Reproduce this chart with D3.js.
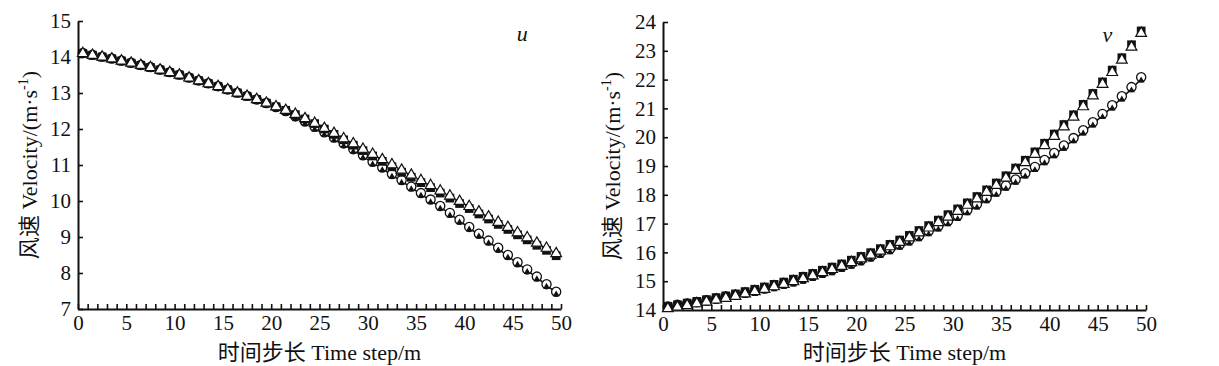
<!DOCTYPE html>
<html lang="zh">
<head>
    <meta charset="UTF-8">
    <title>风速 u / v</title>
    <style>
        *{ box-sizing: border-box; margin: 0; padding: 0; }
        body{ background: #fff; }
        #main{ width: 1219px; height: 366px; }
        text{ font-family: "Liberation Serif", "Times New Roman", "Noto Sans CJK SC", serif; fill: #111; }
    </style>
</head>
<body>
<div id="main"></div>
<script src="https://d3js.org/d3.v7.min.js"></script>
<script>
    /*===========1-数据===========*/
    // 时间步（每个点所在的横坐标）
    const steps = d3.range(50).map(i => i + 0.5)

    // u 分量
    const uSquare = [14.10,14.05,14.00,13.95,13.89,13.83,13.77,13.71,13.64,13.57,13.50,13.42,13.34,13.26,13.18,13.09,13.00,12.91,12.82,12.72,12.62,12.52,12.40,12.28,12.15,12.00,11.85,11.70,11.55,11.40,11.25,11.10,10.95,10.80,10.66,10.51,10.37,10.22,10.08,9.93,9.79,9.64,9.50,9.35,9.21,9.06,8.92,8.77,8.63,8.48]
    const uTriangle = [14.10,14.05,14.00,13.95,13.89,13.83,13.77,13.71,13.64,13.57,13.50,13.42,13.34,13.26,13.18,13.09,13.00,12.91,12.82,12.72,12.62,12.52,12.41,12.29,12.16,12.02,11.88,11.73,11.59,11.44,11.30,11.15,11.01,10.86,10.72,10.57,10.43,10.28,10.14,9.99,9.85,9.70,9.56,9.41,9.27,9.12,8.98,8.83,8.69,8.54]
    const uCircle = [14.11,14.06,14.01,13.96,13.90,13.84,13.78,13.72,13.65,13.58,13.51,13.43,13.35,13.27,13.19,13.10,13.01,12.92,12.82,12.72,12.61,12.50,12.35,12.21,12.06,11.91,11.76,11.60,11.44,11.27,11.09,10.93,10.75,10.58,10.40,10.22,10.04,9.86,9.67,9.48,9.28,9.09,8.90,8.70,8.50,8.30,8.10,7.90,7.69,7.48]
    const uLine = [14.08,14.03,13.98,13.93,13.87,13.81,13.75,13.69,13.62,13.55,13.48,13.40,13.32,13.24,13.16,13.07,12.98,12.89,12.79,12.69,12.58,12.47,12.32,12.18,12.03,11.88,11.73,11.57,11.41,11.24,11.06,10.90,10.72,10.55,10.37,10.19,10.01,9.83,9.64,9.45,9.25,9.06,8.87,8.67,8.47,8.27,8.07,7.87,7.66,7.45]

    // v 分量
    const vSquare = [14.13,14.18,14.24,14.30,14.36,14.43,14.49,14.56,14.64,14.72,14.80,14.89,14.97,15.07,15.17,15.27,15.38,15.49,15.60,15.73,15.86,15.99,16.13,16.28,16.43,16.59,16.76,16.93,17.12,17.31,17.51,17.72,17.94,18.17,18.41,18.66,18.93,19.20,19.49,19.79,20.11,20.44,20.78,21.14,21.52,21.92,22.33,22.76,23.21,23.69]
    const vTriangle = [14.05,14.10,14.16,14.22,14.28,14.35,14.41,14.48,14.56,14.64,14.72,14.81,14.89,14.99,15.09,15.19,15.30,15.41,15.52,15.65,15.78,15.91,16.05,16.20,16.35,16.51,16.68,16.85,17.04,17.23,17.43,17.64,17.86,18.09,18.33,18.58,18.85,19.12,19.41,19.71,20.03,20.36,20.70,21.06,21.44,21.84,22.25,22.68,23.13,23.61]
    const vCircle = [14.12,14.18,14.23,14.28,14.34,14.40,14.47,14.53,14.60,14.67,14.75,14.83,14.91,15.00,15.09,15.19,15.29,15.39,15.50,15.61,15.73,15.86,15.99,16.12,16.27,16.42,16.57,16.74,16.91,17.09,17.27,17.47,17.67,17.89,18.11,18.32,18.53,18.75,18.97,19.21,19.45,19.71,19.97,20.24,20.52,20.81,21.11,21.42,21.74,22.08]
    const vLine = [14.06,14.12,14.17,14.22,14.28,14.34,14.41,14.47,14.54,14.61,14.69,14.77,14.85,14.94,15.03,15.13,15.23,15.33,15.44,15.55,15.67,15.80,15.93,16.06,16.21,16.36,16.51,16.68,16.85,17.03,17.21,17.41,17.61,17.83,18.05,18.26,18.47,18.69,18.91,19.15,19.39,19.65,19.91,20.18,20.46,20.75,21.05,21.36,21.68,22.02]

    // 坐标轴
    const xDomain = [0, 50]
    const xLabelEvery = 5
    const uYDomain = [7, 15]
    const vYDomain = [14, 24]
    const xTitle = '时间步长 Time step/m'

    /*===========2-画布===========*/
    const width = 1219
    const height = 366
    const svg = d3.select('#main').append('svg')
        .attr('width', width)
        .attr('height', height)
        .attr('viewBox', `0 0 ${width} ${height}`)

    // 两个子图的位置
    const panels = [
        {name: 'u', left: 78, top: 21, right: 561, bottom: 309, yDomain: uYDomain, titleX: 29,
            squares: uSquare, triangles: uTriangle, circles: uCircle, line: uLine},
        {name: 'v', left: 663, top: 22, right: 1146, bottom: 310, yDomain: vYDomain, titleX: 612,
            squares: vSquare, triangles: vTriangle, circles: vCircle, line: vLine}
    ]

    panels.forEach(p => {
        const g = svg.append('g')

        const x = d3.scaleLinear().domain(xDomain).range([p.left, p.right])
        const y = d3.scaleLinear().domain(p.yDomain).range([p.bottom, p.top])

        /*---坐标轴---*/
        const xAxis = d3.axisBottom(x)
            .tickValues(d3.range(xDomain[0], xDomain[1] + 1))
            .tickSize(-5)
            .tickSizeOuter(0)
            .tickPadding(6)
            .tickFormat(d => d % xLabelEvery === 0 ? d : '')
        const gx = g.append('g')
            .attr('transform', `translate(0,${p.bottom})`)
            .call(xAxis)
        gx.selectAll('text').style('font-size', '21px')

        const yAxis = d3.axisLeft(y)
            .tickValues(d3.range(p.yDomain[0], p.yDomain[1] + 1))
            .tickSize(-5)
            .tickSizeOuter(0)
            .tickPadding(7)
        const gy = g.append('g')
            .attr('transform', `translate(${p.left},0)`)
            .call(yAxis)
        gy.selectAll('text').style('font-size', '21px')

        g.selectAll('.domain').attr('stroke', '#111').attr('stroke-width', 2)
        g.selectAll('.tick line').attr('stroke', '#111').attr('stroke-width', 1.6)

        /*---轴标题---*/
        g.append('text')
            .attr('x', (p.left + p.right) / 2)
            .attr('y', 360)
            .attr('text-anchor', 'middle')
            .style('font-size', '22px')
            .text(xTitle)

        const yt = g.append('text')
            .attr('transform', `translate(${p.titleX + 8},${(p.top + p.bottom) / 2}) rotate(-90)`)
            .attr('text-anchor', 'middle')
            .style('font-size', '22px')
        yt.append('tspan').text('风速 Velocity/(m·s')
        yt.append('tspan').attr('dy', -9).style('font-size', '14px').text('-1')
        yt.append('tspan').attr('dy', 9).text(')')

        g.append('text')
            .attr('x', x(46))
            .attr('y', y(p.yDomain[1]) + 20)
            .attr('text-anchor', 'middle')
            .style('font-size', '22px')
            .style('font-style', 'italic')
            .text(p.name)

        /*---曲线与标记---*/
        const lineGen = d3.line().x((d, i) => x(steps[i])).y(d => y(d))
        g.append('path')
            .datum(p.line)
            .attr('fill', 'none')
            .attr('stroke', '#111')
            .attr('stroke-width', 1.6)
            .attr('d', lineGen)

        const sym = (type, size) => d3.symbol().type(type).size(size)()

        g.append('g').selectAll('path')
            .data(p.circles)
            .join('path')
            .attr('transform', (d, i) => `translate(${x(steps[i])},${y(d)})`)
            .attr('d', sym(d3.symbolCircle, 66))
            .attr('fill', '#fff')
            .attr('stroke', '#111')
            .attr('stroke-width', 1.3)

        g.append('g').selectAll('path')
            .data(p.line)
            .join('path')
            .attr('transform', (d, i) => `translate(${x(steps[i])},${y(d) + 1.5})`)
            .attr('d', sym(d3.symbolTriangle, 20))
            .attr('fill', '#111')

        g.append('g').selectAll('path')
            .data(p.squares)
            .join('path')
            .attr('transform', (d, i) => `translate(${x(steps[i])},${y(d)})`)
            .attr('d', sym(d3.symbolSquare, 76))
            .attr('fill', '#111')

        g.append('g').selectAll('path')
            .data(p.triangles)
            .join('path')
            .attr('transform', (d, i) => `translate(${x(steps[i])},${y(d)})`)
            .attr('d', sym(d3.symbolTriangle, 50))
            .attr('fill', '#fff')
            .attr('stroke', '#111')
            .attr('stroke-width', 1.2)
    })
</script>
</body>
</html>
